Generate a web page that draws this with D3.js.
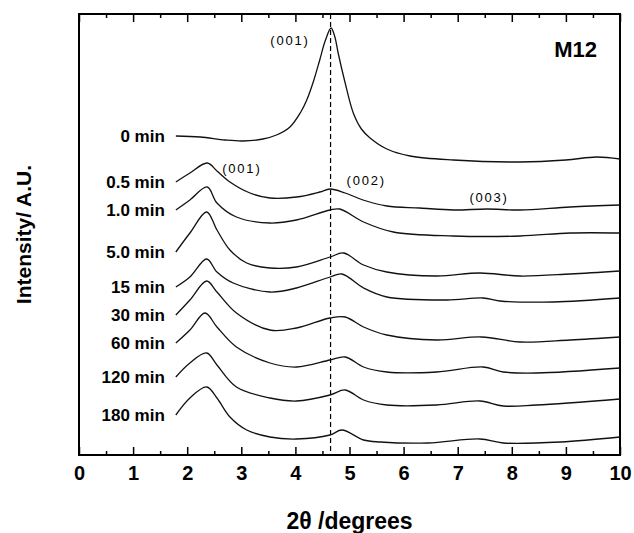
<!DOCTYPE html>
<html>
<head>
<meta charset="utf-8">
<script src="https://cdn.jsdelivr.net/npm/d3@7"></script>
<style>
  body { margin: 0; background: #fff; }
  svg { font-family: "Liberation Sans", Arial, sans-serif; }
</style>
</head>
<body>
<svg id="chart" width="634" height="533"></svg>
<script>
// values: [2theta, intensity (A.U., stacked)]
const min0 = [[1.79,319],[2.24,318],[2.7,315],[3.03,314],[3.4,316],[3.65,320],[3.90,328],[4.10,343],[4.21,355],[4.33,373],[4.45,395],[4.55,414],[4.66,427],[4.73,418],[4.79,402],[4.92,372],[5.07,342],[5.22,326],[5.38,317],[5.69,306],[6.12,299],[6.92,295],[8.15,293],[9.0,295],[9.57,298],[10,296]];
const min05 = [[1.79,273],[2.05,282],[2.37,292],[2.55,284],[2.79,273],[3.16,262],[3.53,257],[4.02,258],[4.45,263],[4.64,266],[4.92,262],[5.25,255],[5.69,249],[6.30,247],[6.92,245],[7.54,246],[8.15,245],[9.08,248],[10,250]];
const min10 = [[1.79,245],[2.05,255],[2.37,268],[2.55,252],[2.91,238],[3.53,232],[4.02,235],[4.64,245],[4.82,246],[5.26,233],[5.81,223],[6.92,219],[8.15,219],[9.08,222],[10,222]];
const min50 = [[1.79,203],[2.05,222],[2.36,243],[2.55,225],[2.79,205],[3.10,192],[3.53,187],[4.02,188],[4.64,198],[4.89,202],[5.26,190],[5.69,183],[6.61,179],[7.41,182],[8.15,179],[9.08,181],[10,184]];
const min15 = [[1.79,168],[2.05,178],[2.36,196],[2.55,183],[2.85,172],[3.53,163],[4.02,167],[4.64,178],[4.86,181],[5.26,167],[5.69,158],[6.80,155],[7.47,157],[7.78,154],[8.77,153],[10,157]];
const min30 = [[1.79,140],[2.05,155],[2.36,174],[2.55,163],[2.91,142],[3.53,125],[4.02,127],[4.64,137],[4.92,138],[5.26,128],[5.69,120],[6.61,115],[7.44,118],[8.15,113],[9.08,115],[10,118]];
const min60 = [[1.79,112],[2.05,125],[2.33,142],[2.55,128],[2.91,108],[3.53,92],[4.02,88],[4.64,95],[4.92,98],[5.26,88],[5.69,83],[6.61,83],[7.47,88],[7.84,83],[8.46,82],[10,87]];
const min120 = [[1.79,78],[2.05,92],[2.36,102],[2.55,90],[2.91,68],[3.53,57],[4.02,54],[4.64,60],[4.92,65],[5.26,55],[5.69,50],[6.61,50],[7.41,54],[7.84,49],[8.46,50],[10,56]];
const min180 = [[1.79,40],[2.05,57],[2.36,68],[2.55,57],[2.79,38],[3.10,25],[3.53,18],[4.02,16],[4.64,20],[4.86,25],[5.26,15],[5.57,13],[6.45,12],[7.41,16],[7.84,12],[8.9,13],[10,18]];

const seriesLabels = ["0 min", "0.5 min", "1.0 min", "5.0 min", "15 min", "30 min", "60 min", "120 min", "180 min"];
const seriesData = [min0, min05, min10, min50, min15, min30, min60, min120, min180];

const peakLabels = ["(001)", "(001)", "(002)", "(003)"];
const peakPos = [[3.90, 410], [3.01, 282], [5.31, 270], [7.58, 253]];

const xTicks = [0, 1, 2, 3, 4, 5, 6, 7, 8, 9, 10];
const xMinor = [0.5, 1.5, 2.5, 3.5, 4.5, 5.5, 6.5, 7.5, 8.5, 9.5];
const refLine = 4.65;

// layout
const margin = { left: 79, top: 14 };
const w = 541, h = 441;

const svg = d3.select("#chart");
const g = svg.append("g").attr("transform", "translate(" + margin.left + "," + margin.top + ")");

const x = d3.scaleLinear([0, 10], [0, w]);
const y = d3.scaleLinear([0, 441], [h, 0]);

// axes, ticks pointing inward
const bottom = g.append("g").attr("transform", "translate(0," + h + ")")
  .call(d3.axisBottom(x).tickValues(xTicks).tickSize(-8).tickPadding(11).tickFormat(d3.format("d")));
g.append("g").attr("transform", "translate(0," + h + ")")
  .call(d3.axisBottom(x).tickValues(xMinor).tickSize(-4).tickFormat(""));
g.append("g").call(d3.axisTop(x).tickValues(xTicks).tickSize(-8).tickFormat(""));
g.append("g").call(d3.axisTop(x).tickValues(xMinor).tickSize(-4).tickFormat(""));

g.selectAll(".domain").remove();
g.selectAll(".tick line").attr("stroke", "#000").attr("stroke-width", 1.5);
bottom.selectAll(".tick text")
  .attr("fill", "#000")
  .style("font-size", "20px")
  .style("font-weight", "bold")
  .style("font-family", "'Liberation Sans', Arial, sans-serif");

// frame
g.append("rect")
  .attr("width", w).attr("height", h)
  .attr("fill", "none").attr("stroke", "#000").attr("stroke-width", 2);

// dashed reference line
g.append("line")
  .attr("x1", x(refLine)).attr("x2", x(refLine))
  .attr("y1", 0).attr("y2", h)
  .attr("stroke", "#000").attr("stroke-width", 1.2)
  .attr("stroke-dasharray", "5,3");

// traces
const line = d3.line()
  .x(d => x(d[0]))
  .y(d => y(d[1]))
  .curve(d3.curveCatmullRom.alpha(0.5));

g.selectAll("path.trace")
  .data(seriesData)
  .enter()
  .append("path")
  .attr("class", "trace")
  .attr("d", line)
  .attr("fill", "none")
  .attr("stroke", "#111")
  .attr("stroke-width", 1.3);

// series labels, right aligned just left of each trace start
g.selectAll("text.slabel")
  .data(seriesData)
  .enter()
  .append("text")
  .attr("class", "slabel")
  .attr("x", d => x(d[0][0]) - 11)
  .attr("y", d => y(d[0][1]) + 6)
  .attr("text-anchor", "end")
  .style("font-size", "17px")
  .style("font-weight", "bold")
  .text((d, i) => seriesLabels[i]);

// peak labels
g.selectAll("text.plabel")
  .data(peakPos)
  .enter()
  .append("text")
  .attr("class", "plabel")
  .attr("x", d => x(d[0]))
  .attr("y", d => y(d[1]))
  .attr("text-anchor", "middle")
  .style("font-size", "13px")
  .style("letter-spacing", "1.8px")
  .text((d, i) => peakLabels[i]);

// sample name
g.append("text")
  .attr("x", 518).attr("y", 43)
  .attr("text-anchor", "end")
  .style("font-size", "22px")
  .style("font-weight", "bold")
  .text("M12");

// axis titles
svg.append("text")
  .attr("x", margin.left + w / 2).attr("y", 529)
  .attr("text-anchor", "middle")
  .style("font-size", "23px")
  .style("font-weight", "bold")
  .text("2θ /degrees");

svg.append("text")
  .attr("transform", "translate(31," + (margin.top + h / 2) + ") rotate(-90)")
  .attr("text-anchor", "middle")
  .style("font-size", "21px")
  .style("font-weight", "bold")
  .text("Intensity/ A.U.");
</script>
</body>
</html>
